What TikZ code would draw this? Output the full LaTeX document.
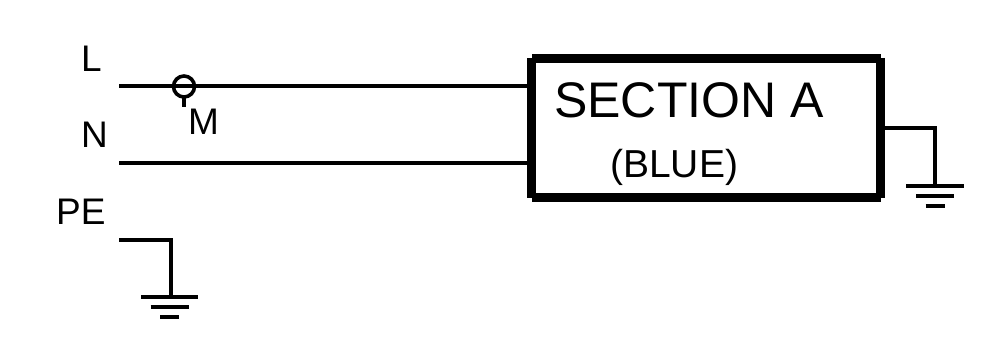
\documentclass[tikz,border=0pt]{standalone}
\usepackage{fontspec}
\setmainfont{Liberation Sans}
\tikzset{
  wire/.style={line width=4pt,line cap=butt},
  thin wire/.style={line width=4pt,line cap=butt,line join=miter},
  heavy/.style={line width=9pt,line cap=butt},
  lab/.style={anchor=base west,inner sep=0pt,font=\fontsize{37}{37}\selectfont,text=black},
  mid/.style={anchor=base west,inner sep=0pt,font=\fontsize{39}{39}\selectfont,text=black},
  big/.style={anchor=base west,inner sep=0pt,font=\fontsize{50}{50}\selectfont,text=black},
}
\begin{document}
\begin{tikzpicture}[x=1pt,y=-1pt]
\useasboundingbox (0,0) rectangle (987,339);
% box
\node[minimum width=349pt,minimum height=139pt,inner sep=0pt,outer sep=0pt,anchor=north west] (box) at (531.5,58.5) {};
\draw[heavy] ([yshift=0.5pt]box.north west) -- ([yshift=-0.5pt]box.south west);
\draw[heavy] ([yshift=0.5pt]box.north east) -- ([yshift=-0.5pt]box.south east);
\draw[heavy] (box.north west) ++(0.5,0) coordinate (tl) -- (box.north east);
\draw[heavy] (box.south west) ++(0.5,0) coordinate (bl) -- (box.south east);
% labels
\node[lab] (tL) at (81,72) {L};
\node[lab] (tN) at (81,148) {N};
\node[lab] (tPE) at (56,224) {PE};
\node[lab] (tM) at (188,135) {M};
\node[big] (tS) at (554,118) {SECTION A};
\node[mid] (tB) at (610,177.5) {(BLUE)};
% wires
\coordinate (Lstart) at (119,86.5);
\coordinate (Lend) at (527,86.5);
\coordinate (Nstart) at (119,163);
\coordinate (Nend) at (527,163);
\draw[wire] (Lstart) -- (Lend);
\draw[wire] (Nstart) -- (Nend);
% meter
\node[circle,draw,line width=3.6pt,minimum size=21pt,inner sep=0pt,outer sep=0pt] (meter) at (184,86.5) {};
\coordinate (mtick) at (184,107);
\draw[wire] (184,97) -- (mtick);
% PE earth
\coordinate (PEa) at (119,240);
\coordinate (PEb) at (170.5,240);
\coordinate (PEc) at (170.5,297);
\draw[thin wire] (PEa) -- (PEb) -- (PEc);
\coordinate (g1a) at (141,297); \coordinate (g1b) at (198,297);
\coordinate (g2a) at (150.5,307); \coordinate (g2b) at (189,307);
\coordinate (g3a) at (160,317); \coordinate (g3b) at (179,317);
\draw[thin wire] (g1a) -- (g1b);
\draw[thin wire] (g2a) -- (g2b);
\draw[thin wire] (g3a) -- (g3b);
% box earth
\coordinate (Ba) at (885,128.5);
\coordinate (Bb) at (935,128.5);
\coordinate (Bc) at (935,186);
\draw[thin wire] (Ba) -- (Bb) -- (Bc);
\coordinate (h1a) at (906,186); \coordinate (h1b) at (964,186);
\coordinate (h2a) at (916,196); \coordinate (h2b) at (954,196);
\coordinate (h3a) at (925.5,205.5); \coordinate (h3b) at (945,205.5);
\draw[thin wire] (h1a) -- (h1b);
\draw[thin wire] (h2a) -- (h2b);
\draw[thin wire] (h3a) -- (h3b);
\end{tikzpicture}
\end{document}
